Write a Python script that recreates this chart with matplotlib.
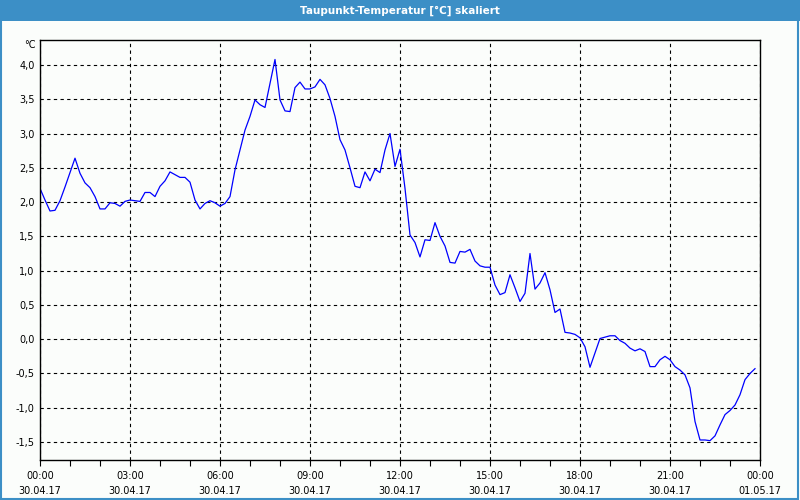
import matplotlib
matplotlib.use("Agg")
import matplotlib.pyplot as plt
from matplotlib.patches import Rectangle
import numpy as np

# dew point, 10-minute readings from 00:00 to 23:50 on 30.04.17
dewpoint = [
    2.20, 2.03, 1.87, 1.88, 2.02, 2.22, 2.43, 2.64, 2.42, 2.28,
    2.21, 2.08, 1.90, 1.90, 1.99, 1.98, 1.94, 2.01, 2.03, 2.02,
    2.01, 2.14, 2.14, 2.08, 2.23, 2.31, 2.44, 2.40, 2.36, 2.36,
    2.29, 2.03, 1.90, 1.98, 2.02, 1.99, 1.94, 1.98, 2.08, 2.47,
    2.76, 3.05, 3.25, 3.49, 3.42, 3.38, 3.73, 4.08, 3.49, 3.33,
    3.32, 3.67, 3.75, 3.65, 3.65, 3.68, 3.79, 3.71, 3.51, 3.25,
    2.91, 2.76, 2.50, 2.23, 2.21, 2.44, 2.31, 2.48, 2.43, 2.76,
    3.00, 2.52, 2.77, 2.20, 1.52, 1.41, 1.20, 1.45, 1.44, 1.70,
    1.50, 1.36, 1.12, 1.11, 1.28, 1.27, 1.31, 1.14, 1.07, 1.05,
    1.05, 0.79, 0.65, 0.68, 0.94, 0.75, 0.55, 0.67, 1.25, 0.73,
    0.82, 0.97, 0.72, 0.39, 0.44, 0.10, 0.09, 0.07, 0.02, -0.11,
    -0.41, -0.20, 0.01, 0.03, 0.05, 0.05, -0.02, -0.06, -0.13, -0.17,
    -0.14, -0.18, -0.40, -0.40, -0.30, -0.25, -0.30, -0.40, -0.45, -0.52,
    -0.71, -1.20, -1.47, -1.47, -1.48, -1.41, -1.25, -1.10, -1.04, -0.96,
    -0.81, -0.59, -0.50, -0.43,
]
x_hours = [0, 3, 6, 9, 12, 15, 18, 21, 24]
x_labels = ["00:00\n30.04.17", "03:00\n30.04.17", "06:00\n30.04.17",
            "09:00\n30.04.17", "12:00\n30.04.17", "15:00\n30.04.17",
            "18:00\n30.04.17", "21:00\n30.04.17", "00:00\n01.05.17"]
y_ticks = [-1.5, -1.0, -0.5, 0.0, 0.5, 1.0, 1.5, 2.0, 2.5, 3.0, 3.5, 4.0]

hours = np.arange(len(dewpoint)) / 6.0

bg = "#fbfdfb"
bar_blue = "#3c8fc6"

fig = plt.figure(figsize=(8, 5), dpi=100, facecolor=bg)

# title bar and frame
fig.patches.append(Rectangle((0, 0.958), 1, 0.042, transform=fig.transFigure,
                             facecolor=bar_blue, edgecolor="none", zorder=0))
fig.patches.append(Rectangle((0.001, 0.002), 0.997, 0.996, transform=fig.transFigure,
                             facecolor="none", edgecolor=bar_blue, linewidth=1.5, zorder=1))
fig.text(0.5, 0.979, "Taupunkt-Temperatur [°C] skaliert", color="white",
         fontsize=7.5, fontweight="bold", ha="center", va="center")

ax = fig.add_axes([0.05, 0.08, 0.90, 0.84])
ax.set_facecolor(bg)
ax.plot(hours, dewpoint, color="#0000ff", linewidth=0.9)

ax.set_xlim(0, 24)
ax.set_ylim(-1.762, 4.364)

ax.set_xticks(x_hours)
ax.set_xticklabels(x_labels, fontsize=7, linespacing=1.65)
ax.set_xticks(np.arange(0, 25, 1), minor=True)
ax.tick_params(axis="x", which="both", direction="out", length=4, width=0.8, pad=4)

ax.set_yticks(y_ticks)
ax.set_yticklabels([f"{v:.1f}".replace(".", ",") for v in y_ticks], fontsize=7)
ax.tick_params(axis="y", length=0, pad=4)

ax.grid(True, which="major", color="black", linestyle=(0, (3, 3)), linewidth=0.8)
for s in ax.spines.values():
    s.set_linewidth(1.0)
    s.set_color("black")

fig.text(0.045, 0.91, "°C", fontsize=7, ha="right", va="center")

fig.savefig("out.png", dpi=100, facecolor=bg)
